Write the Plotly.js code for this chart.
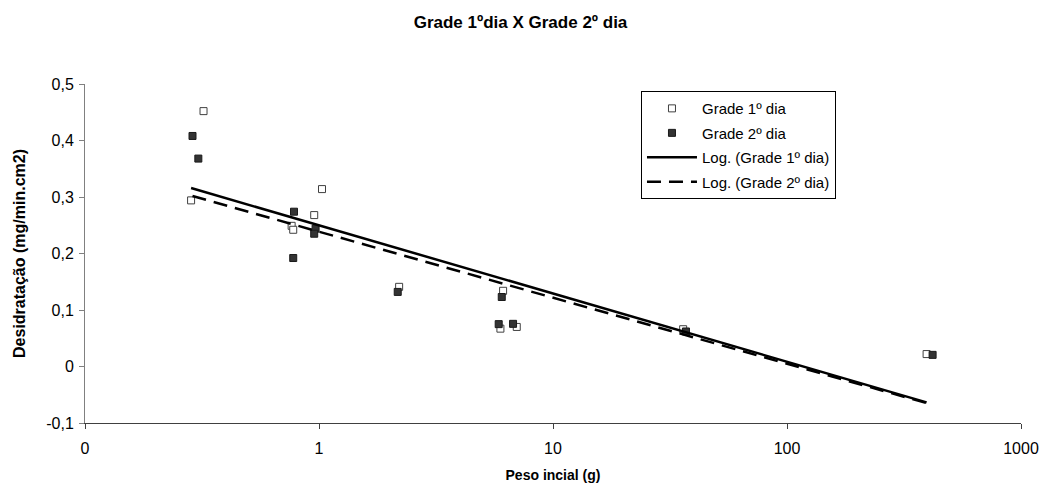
<!DOCTYPE html>
<html>
<head>
<meta charset="utf-8">
<script src="https://cdn.plot.ly/plotly-3.0.1.min.js"></script>
<style>html,body{margin:0;padding:0;background:#fff;}#chart{width:1041px;height:493px;}</style>
</head>
<body>
<div id="chart"></div>
<script>
// Data
const pesoDia1 = [0.284, 0.321, 0.764, 0.776, 0.954, 1.03, 2.20, 6.12, 5.96, 7.0, 36, 395];
const desidDia1 = [0.294, 0.452, 0.249, 0.242, 0.268, 0.314, 0.141, 0.134, 0.067, 0.070, 0.066, 0.022];
const pesoDia2 = [0.288, 0.305, 0.782, 0.967, 0.954, 0.776, 2.17, 6.04, 5.86, 6.75, 37, 419];
const desidDia2 = [0.408, 0.368, 0.274, 0.244, 0.235, 0.192, 0.132, 0.123, 0.075, 0.0755, 0.062, 0.0206];

const xTickVals = [0.1, 1, 10, 100, 1000];
const xTickText = ['0', '1', '10', '100', '1000'];
const yTickVals = [-0.1, 0, 0.1, 0.2, 0.3, 0.4, 0.5];
const yTickText = ['-0,1', '0', '0,1', '0,2', '0,3', '0,4', '0,5'];

// Logarithmic trendline (y = a ln x + b), least squares from the data
function logFit(xs, ys) {
  const n = xs.length;
  const lx = xs.map(v => Math.log(v));
  const mx = lx.reduce((s, v) => s + v, 0) / n;
  const my = ys.reduce((s, v) => s + v, 0) / n;
  let sxy = 0, sxx = 0;
  for (let i = 0; i < n; i++) { sxy += (lx[i] - mx) * (ys[i] - my); sxx += (lx[i] - mx) ** 2; }
  const a = sxy / sxx, b = my - a * mx;
  const xmin = Math.min(...xs), xmax = Math.max(...xs);
  const tx = [], ty = [];
  const steps = 40;
  for (let i = 0; i <= steps; i++) {
    const x = Math.exp(Math.log(xmin) + (Math.log(xmax) - Math.log(xmin)) * i / steps);
    tx.push(x); ty.push(a * Math.log(x) + b);
  }
  return {x: tx, y: ty};
}
const fit1 = logFit(pesoDia1, desidDia1);
const fit2 = logFit(pesoDia2, desidDia2);

const font = 'Liberation Sans, Arial, sans-serif';
const traces = [
  {x: pesoDia1, y: desidDia1, mode: 'markers', type: 'scatter', name: 'Grade 1º dia', legendgroup: 'a',
   marker: {symbol: 'square', size: 7, color: '#ffffff', line: {color: '#404040', width: 1}}},
  {x: pesoDia2, y: desidDia2, mode: 'markers', type: 'scatter', name: 'Grade 2º dia', legendgroup: 'b',
   marker: {symbol: 'square', size: 7, color: '#333333', line: {color: '#1a1a1a', width: 1}}},
  {x: fit1.x, y: fit1.y, mode: 'lines', type: 'scatter', name: 'Log. (Grade 1º dia)', legendgroup: 'c',
   line: {color: '#000000', width: 2.5}},
  {x: fit2.x, y: fit2.y, mode: 'lines', type: 'scatter', name: 'Log. (Grade 2º dia)', legendgroup: 'd',
   line: {color: '#000000', width: 2.5, dash: '14px,8px'}}
];

const layout = {
  width: 1041, height: 493,
  margin: {l: 85, r: 20, t: 84, b: 70},
  paper_bgcolor: '#ffffff', plot_bgcolor: '#ffffff',
  font: {family: font, size: 13, color: '#000000'},
  showlegend: true,
  title: {text: '<b>Grade 1ºdia X Grade 2º dia</b>', x: 0.5, xref: 'container', y: 0.955, yanchor: 'middle',
          font: {family: font, size: 17, color: '#000'}},
  xaxis: {
    type: 'log', range: [-1, 3], tickvals: xTickVals, ticktext: xTickText,
    showgrid: false, zeroline: false, showline: true, linecolor: '#404040', linewidth: 1,
    ticks: 'outside', ticklen: 5, tickcolor: '#404040', ticklabelstandoff: 6,
    tickfont: {family: font, size: 16},
    title: {text: '<b>Peso incial (g)</b>', font: {family: font, size: 14}, standoff: 13}
  },
  yaxis: {
    range: [-0.1, 0.5], tickvals: yTickVals, ticktext: yTickText,
    showgrid: false, zeroline: false, showline: true, linecolor: '#808080', linewidth: 1,
    ticks: 'outside', ticklen: 5, tickcolor: '#808080', ticklabelstandoff: 2,
    tickfont: {family: font, size: 16},
    title: {text: '<b>Desidratação (mg/min.cm2)</b>', font: {family: font, size: 16}, standoff: 16}
  },
  legend: {
    x: 0.594, y: 0.979, xanchor: 'left', yanchor: 'top',
    bordercolor: '#000000', borderwidth: 1, bgcolor: '#ffffff',
    font: {family: font, size: 15}, itemwidth: 50, tracegroupgap: 2, traceorder: 'grouped'
  }
};

Plotly.newPlot('chart', traces, layout, {displayModeBar: false, staticPlot: true});
</script>
</body>
</html>
